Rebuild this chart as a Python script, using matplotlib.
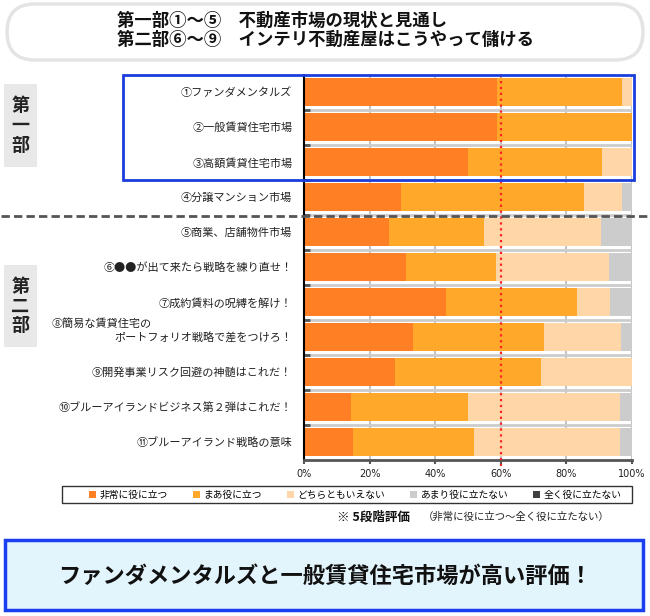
import numpy as np
import matplotlib
matplotlib.use("Agg")
import matplotlib.pyplot as plt
from matplotlib.patches import Rectangle, FancyBboxPatch

plt.rcParams['font.family'] = ['Noto Sans CJK JP', 'DejaVu Sans']

# data (percent)
categories = ["①ファンダメンタルズ", "②一般賃貸住宅市場", "③高額賃貸住宅市場",
              "④分譲マンション市場", "⑤商業、店舗物件市場",
              "⑥●●が出て来たら戦略を練り直せ！", "⑦成約賃料の呪縛を解け！",
              "ポートフォリオ戦略で差をつけろ！", "⑨開発事業リスク回避の神髄はこれだ！",
              "⑩ブルーアイランドビジネス第２弾はこれだ！", "⑪ブルーアイランド戦略の意味"]
row8_first_line = "⑧簡易な賃貸住宅の"
series_names = ["非常に役に立つ", "まあ役に立つ", "どちらともいえない", "あまり役に立たない", "全く役に立たない"]
very_useful = [59, 59, 50, 29.5, 26, 31, 43.3, 33.3, 27.7, 14.3, 14.8]
fairly_useful = [38, 41, 41, 56, 29, 27.5, 40, 40, 44.6, 35.7, 37]
neutral = [3, 0, 9, 11.5, 35.5, 34.5, 10, 23.3, 27.7, 46.4, 44.6]
not_very = [0, 0, 0, 3, 9.5, 7, 6.7, 3.4, 0, 3.6, 3.6]
not_at_all = [0, 0, 0, 0, 0, 0, 0, 0, 0, 0, 0]
xticks = [0, 20, 40, 60, 80, 100]
colors = ['#FF7F24', '#FFA82A', '#FFD6A8', '#CCCCCC', '#404040']

W, H = 650, 616
fig = plt.figure(figsize=(W / 100, H / 100), dpi=100)
ax = fig.add_axes([304.3 / W, 1 - 459.5 / H, 327.4 / W, 385 / H])

y = np.arange(len(categories))
left = np.zeros(len(categories))
for name, vals, c in zip(series_names,
                         [very_useful, fairly_useful, neutral, not_very, not_at_all], colors):
    ax.barh(y, vals, left=left, height=0.8, color=c, label=name, zorder=2)
    left += np.array(vals)

ax.set_xlim(0, 100)
ax.set_ylim(len(categories) - 0.5, -0.5)
ax.set_xticks(xticks)
ax.set_xticklabels([f"{t}%" for t in xticks], fontsize=7, family='DejaVu Sans', color='#222')
ax.set_yticks(y)
ax.set_yticklabels(categories, fontsize=8, color='#222')
ax.set_yticks(y[:-1] + 0.5, minor=True)
ax.tick_params(axis='y', which='major', length=0, pad=8.6)
ax.tick_params(axis='y', which='minor', length=4, width=2, direction='in', color='#555')
ax.tick_params(axis='x', length=3, width=1.5, color='#555', pad=4)
ax.grid(axis='x', color='#c4c4c4', lw=1.5, zorder=0)
ax.grid(axis='y', which='minor', color='#cccccc', lw=2, zorder=0)
ax.set_axisbelow(True)
for s in ['top', 'right']:
    ax.spines[s].set_visible(False)
ax.spines['left'].set_color('black')
ax.spines['left'].set_linewidth(1.5)
ax.spines['bottom'].set_color('#555')
ax.spines['bottom'].set_linewidth(2)
ax.axvline(60, ymin=-0.017, ymax=1.007, color='#ff2020', ls=':', lw=1.6, zorder=5, clip_on=False)

# first line of the two-line label of row 8
ax.text(52 / W, 7 - 0.39, row8_first_line, fontsize=8, color='#222', va='center', ha='left',
        transform=matplotlib.transforms.blended_transform_factory(fig.transFigure, ax.transData))

# legend
leg = fig.legend(loc='center left', bbox_to_anchor=(84 / W, 1 - 494.5 / H), ncol=5, frameon=False,
                 fontsize=7, handlelength=0.75, handleheight=0.75, handletextpad=0.35,
                 columnspacing=2.55, borderpad=0)

# decorations in pixel coordinates
ov = fig.add_axes([0, 0, 1, 1])
ov.set_xlim(0, W)
ov.set_ylim(H, 0)
ov.axis('off')
ov.patch.set_visible(False)

ov.add_patch(FancyBboxPatch((7, 4), 636, 56, boxstyle="round,pad=0,rounding_size=28",
                            fc='white', ec='#e4e4e4', lw=2.5))
ov.text(117, 21, "第一部①〜⑤　不動産市場の現状と見通し", fontsize=12.5, fontweight='bold',
        va='center', ha='left', color='#111')
ov.text(117, 40, "第二部⑥〜⑨　インテリ不動産屋はこうやって儲ける", fontsize=12.5, fontweight='bold',
        va='center', ha='left', color='#111')

ov.add_patch(Rectangle((123, 75), 511, 105, fill=False, ec='#1a3ddc', lw=2))
ov.plot([1, 649], [216, 216], color='#555', lw=2, ls=(0, (3, 1.5)))

for y0, y1, txt in [(84, 167, "第\n一\n部"), (265, 347, "第\n二\n部")]:
    ov.add_patch(Rectangle((4, y0), 33, y1 - y0, fc='#e8e8e8', ec='none'))
    ov.text(20.5, (y0 + y1) / 2, txt, fontsize=13, fontweight='bold', ha='center', va='center',
            linespacing=1.05, color='#222')

ov.add_patch(Rectangle((62, 486), 570, 17, fill=False, ec='#333', lw=1))
ov.text(337, 517, "※ 5段階評価", fontsize=9, fontweight='bold', va='center', ha='left', color='#111')
ov.text(423, 517, "（非常に役に立つ〜全く役に立たない）", fontsize=7.5, va='center', ha='left', color='#222')

ov.add_patch(Rectangle((5, 540), 638, 70, fc='#e3f5fc', ec='#1a3ff0', lw=2.5))
ov.text(325, 576, "ファンダメンタルズと一般賃貸住宅市場が高い評価！", fontsize=16, fontweight='bold',
        ha='center', va='center', color='#111')

fig.savefig("out.png", dpi=100)
